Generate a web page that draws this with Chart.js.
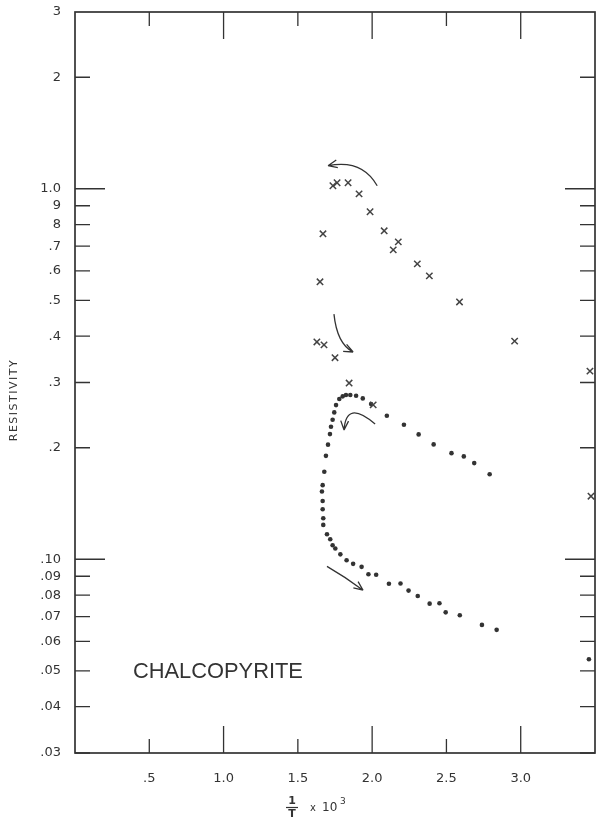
<!DOCTYPE html>
<html>
<head>
<meta charset="utf-8">
<script src="https://cdn.jsdelivr.net/npm/chart.js@4.4.1/dist/chart.umd.min.js"></script>
<style>
    html, body { margin: 0; padding: 0; background: #fff; }
</style>
</head>
<body>
<canvas id="chartResistividad" width="601" height="828"></canvas>
<script>
// Datos (1/T x 10^3 vs resistividad)
const crossX = [1.736, 1.764, 1.838, 1.912, 1.986, 1.669, 2.081, 2.176, 2.142, 2.304, 2.385,
    1.649, 2.588, 1.628, 1.676, 1.750, 2.959, 1.845, 2.007, 3.466, 3.473];
const crossY = [1.019, 1.038, 1.038, 0.969, 0.867, 0.756, 0.770, 0.719, 0.684, 0.627, 0.582,
    0.561, 0.495, 0.386, 0.379, 0.350, 0.388, 0.299, 0.261, 0.322, 0.148];

const dotX = [2.791, 2.687, 2.617, 2.534, 2.414, 2.313, 2.214, 2.099, 1.993, 1.937, 1.892,
    1.853, 1.824, 1.802, 1.779, 1.757, 1.745, 1.734, 1.723, 1.716, 1.703, 1.689, 1.678,
    1.667, 1.662, 1.667, 1.667, 1.671, 1.671, 1.696, 1.718, 1.734, 1.752, 1.786, 1.828,
    1.872, 1.929, 1.975, 2.027, 2.113, 2.191, 2.245, 2.307, 2.387, 2.453, 2.495, 2.590,
    2.739, 2.838, 3.459];
const dotY = [0.1697, 0.1818, 0.1895, 0.1934, 0.2042, 0.2173, 0.2307, 0.2439, 0.2623, 0.2718, 0.2763,
    0.2775, 0.2775, 0.2753, 0.2707, 0.2607, 0.2491, 0.2379, 0.2278, 0.2177, 0.2039, 0.1902, 0.1722,
    0.1585, 0.1524, 0.1437, 0.1365, 0.1291, 0.1238, 0.1168, 0.1132, 0.1091, 0.1069, 0.1031, 0.0994,
    0.0972, 0.0954, 0.0911, 0.0908, 0.0859, 0.0860, 0.0823, 0.0796, 0.0759, 0.0761, 0.0719, 0.0706,
    0.0665, 0.0645, 0.0537];

const xTicks = [0.5, 1.0, 1.5, 2.0, 2.5, 3.0];
const xTickLabels = ['.5', '1.0', '1.5', '2.0', '2.5', '3.0'];
const xLongTicks = [1.0, 2.0, 3.0];

const yTicks = [3, 2, 1, 0.9, 0.8, 0.7, 0.6, 0.5, 0.4, 0.3, 0.2, 0.1, 0.09, 0.08, 0.07, 0.06, 0.05, 0.04, 0.03];
const yTickLabels = ['3', '2', '1.0', '9', '8', '.7', '.6', '.5', '.4', '.3', '.2', '.10', '.09', '.08', '.07', '.06', '.05', '.04', '.03'];
const yLongTicks = [1, 0.1];

// Flechas curvas: [inicio, control, fin] en unidades de datos
const arrowStart = [[2.034, 1.019], [1.743, 0.459], [2.020, 0.2317], [1.696, 0.0957]];
const arrowCtrl = [[1.932, 1.205], [1.764, 0.381], [1.824, 0.2707], [1.824, 0.0894]];
const arrowEnd = [[1.703, 1.154], [1.872, 0.3626], [1.811, 0.2232], [1.939, 0.0825]];

const mineral = 'CHALCOPYRITE';
const ink = '#333';

const toPoints = (xs, ys) => xs.map((x, i) => ({ x: x, y: ys[i] }));

// Marco, marcas hacia adentro, textos y flechas
const decoPlugin = {
    id: 'deco',
    afterDraw(chart) {
        const { ctx, chartArea: a, scales: { x, y } } = chart;
        ctx.save();
        ctx.strokeStyle = ink;
        ctx.lineWidth = 1.7;
        ctx.strokeRect(a.left, a.top, a.right - a.left, a.bottom - a.top);

        ctx.lineWidth = 1.3;
        ctx.beginPath();
        yTicks.forEach(v => {
            if (v === 3) return;
            const py = y.getPixelForValue(v);
            const len = yLongTicks.includes(v) ? 30 : 15;
            ctx.moveTo(a.left, py); ctx.lineTo(a.left + len, py);
            ctx.moveTo(a.right, py); ctx.lineTo(a.right - len, py);
        });
        xTicks.forEach(v => {
            const px = x.getPixelForValue(v);
            const len = xLongTicks.includes(v) ? 27 : 14;
            ctx.moveTo(px, a.bottom); ctx.lineTo(px, a.bottom - len);
            ctx.moveTo(px, a.top); ctx.lineTo(px, a.top + len);
        });
        ctx.stroke();

        // flechas
        ctx.lineWidth = 1.3;
        arrowStart.forEach((s, i) => {
            const p0 = [x.getPixelForValue(s[0]), y.getPixelForValue(s[1])];
            const c = [x.getPixelForValue(arrowCtrl[i][0]), y.getPixelForValue(arrowCtrl[i][1])];
            const p1 = [x.getPixelForValue(arrowEnd[i][0]), y.getPixelForValue(arrowEnd[i][1])];
            ctx.beginPath();
            ctx.moveTo(p0[0], p0[1]);
            ctx.quadraticCurveTo(c[0], c[1], p1[0], p1[1]);
            const ang = Math.atan2(p1[1] - c[1], p1[0] - c[0]);
            ctx.moveTo(p1[0], p1[1]);
            ctx.lineTo(p1[0] - 10 * Math.cos(ang - 0.4), p1[1] - 10 * Math.sin(ang - 0.4));
            ctx.moveTo(p1[0], p1[1]);
            ctx.lineTo(p1[0] - 10 * Math.cos(ang + 0.4), p1[1] - 10 * Math.sin(ang + 0.4));
            ctx.stroke();
        });

        // nombre del mineral
        ctx.fillStyle = ink;
        ctx.font = '22px "Liberation Sans", sans-serif';
        ctx.textBaseline = 'middle';
        const tx = x.getPixelForValue(0.39);
        const ty = y.getPixelForValue(0.0498);
        const w = ctx.measureText(mineral).width;
        ctx.save();
        ctx.translate(tx, ty);
        ctx.scale(170 / w, 1);
        ctx.fillText(mineral, 0, 0);
        ctx.restore();

        // titulo eje y
        ctx.save();
        ctx.translate(14, 400);
        ctx.rotate(-Math.PI / 2);
        ctx.font = '11px "DejaVu Sans", sans-serif';
        ctx.letterSpacing = '1.5px';
        ctx.textAlign = 'center';
        ctx.fillText('RESISTIVITY', 0, 0);
        ctx.restore();

        // titulo eje x: 1/T x 10^3
        ctx.font = 'bold 11px "DejaVu Sans", sans-serif';
        ctx.textAlign = 'center';
        ctx.fillText('1', 292, 801);
        ctx.fillText('T', 292, 814);
        ctx.lineWidth = 1.2;
        ctx.beginPath(); ctx.moveTo(286, 807.5); ctx.lineTo(298, 807.5); ctx.stroke();
        ctx.font = '10px "DejaVu Sans", sans-serif';
        ctx.fillText('x', 313, 808);
        ctx.font = '12px "DejaVu Sans", sans-serif';
        ctx.textAlign = 'left';
        ctx.fillText('10', 322, 808);
        ctx.font = '9px "DejaVu Sans", sans-serif';
        ctx.fillText('3', 340, 802);
        ctx.restore();
    }
};

new Chart(document.getElementById('chartResistividad'), {
    type: 'scatter',
    data: {
        datasets: [
            {
                label: 'Calentamiento',
                data: toPoints(crossX, crossY),
                pointStyle: 'crossRot',
                radius: 4.5,
                borderColor: '#444',
                borderWidth: 1.5,
            },
            {
                label: 'Enfriamiento',
                data: toPoints(dotX, dotY),
                pointStyle: 'circle',
                radius: 2.3,
                backgroundColor: '#333',
                borderColor: '#333',
                borderWidth: 0,
            },
        ],
    },
    options: {
        responsive: false,
        animation: false,
        layout: { padding: { top: 12, right: 6, left: 0, bottom: 0 } },
        plugins: { legend: { display: false }, tooltip: { enabled: false } },
        scales: {
            x: {
                type: 'linear',
                min: 0,
                max: 3.5,
                afterBuildTicks: s => { s.ticks = xTicks.map(v => ({ value: v })); },
                afterFit: s => { s.height = 75; s.paddingLeft = 0; s.paddingRight = 0; },
                grid: { display: false, drawTicks: false },
                border: { display: false },
                ticks: {
                    autoSkip: false,
                    maxRotation: 0,
                    padding: 18,
                    color: ink,
                    font: { family: 'DejaVu Sans', size: 13 },
                    callback: v => xTickLabels[xTicks.indexOf(v)],
                },
            },
            y: {
                type: 'logarithmic',
                min: 0.03,
                max: 3,
                afterBuildTicks: s => { s.ticks = yTicks.map(v => ({ value: v })); },
                afterFit: s => { s.width = 75; s.paddingTop = 0; s.paddingBottom = 0; },
                grid: { display: false, drawTicks: false },
                border: { display: false },
                ticks: {
                    autoSkip: false,
                    padding: 14,
                    color: ink,
                    font: { family: 'DejaVu Sans', size: 13 },
                    callback: v => yTickLabels[yTicks.indexOf(v)],
                },
            },
        },
    },
    plugins: [decoPlugin],
});
</script>
</body>
</html>
